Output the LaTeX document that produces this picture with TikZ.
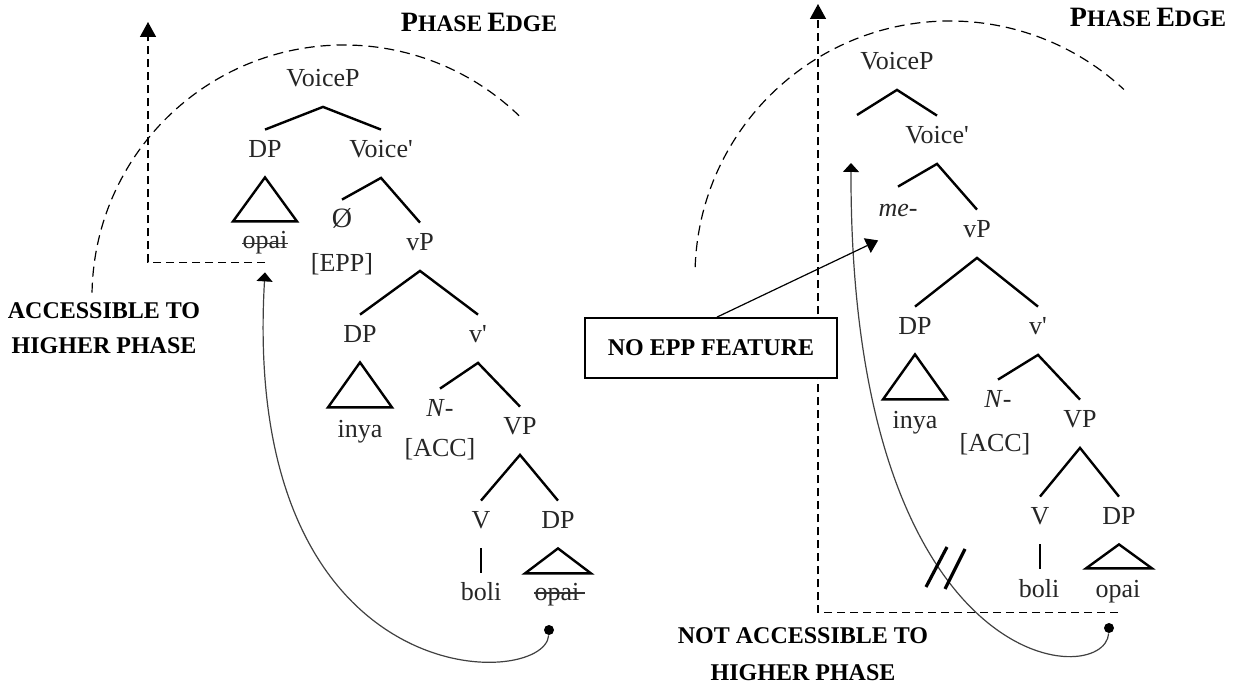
\documentclass[tikz,border=0pt]{standalone}
\usepackage{fontspec}
\setmainfont{Liberation Serif}
\usetikzlibrary{arrows.meta}
\newcommand{\treefont}{\fontsize{13}{15}\selectfont}
\newcommand{\tagfont}{\fontsize{12}{17.5}\selectfont\bfseries}
\newcommand{\capsbig}[2]{{\fontsize{14}{16}\selectfont #1}{\fontsize{11.8}{14}\selectfont #2}}
\begin{document}
\begin{tikzpicture}[x=0.5pt,y=-0.5pt]
    \tikzstyle{lbl}=[anchor=base,inner sep=0pt,text height=8pt,text depth=2.5pt,font=\treefont,text=black!85]
    \tikzstyle{tag}=[align=center,inner sep=0pt,font=\tagfont]
    \tikzstyle{branch}=[line width=1.2pt]
    \tikzstyle{strike}=[line width=0.6pt,black!80]
    \tikzstyle{phase}=[dash pattern=on 5pt off 3pt,line width=0.6pt]
    \tikzstyle{route}=[dash pattern=on 4pt off 2.5pt,line width=0.7pt,-{Triangle[width=8pt,length=7.5pt]}]
    \tikzstyle{move}=[black!75,line width=0.6pt,-{Triangle[width=8pt,length=4.5pt,color=black]}]
    \tikzstyle{dot}=[circle,fill,inner sep=0pt,minimum size=5pt]
    \useasboundingbox (0,0) rectangle (1238,683);
    % left tree
    \node[lbl] (voicepA) at (323,87) {VoiceP};
    \node[lbl] (dpA) at (265,158) {DP};
    \node[lbl] (voicebarA) at (381,158) {Voice\textquotesingle};
    \node[lbl] (opA) at (265,249) {opai};
    \node[lbl] (nullA) at (342,228) {{\fontsize{14}{15}\selectfont Ø}};
    \node[lbl] (eppA) at (342,272) {[EPP]};
    \node[lbl] (vpA) at (420,251) {vP};
    \node[lbl] (subjA) at (360,343) {DP};
    \node[lbl] (vbarA) at (478,343) {v\textquotesingle};
    \node[lbl] (inyaA) at (360,438) {inya};
    \node[lbl] (nA) at (440,417) {\textit{N}-};
    \node[lbl] (accA) at (440,457) {[ACC]};
    \node[lbl] (bigvpA) at (520,435) {VP};
    \node[lbl] (verbA) at (481,529) {V};
    \node[lbl] (objA) at (558,529) {DP};
    \node[lbl] (boliA) at (481,601) {boli};
    \node[lbl] (opaiA) at (557,601) {opai};
    % right tree
    \node[lbl] (voicepB) at (897,70) {VoiceP};
    \coordinate (specB) at (857,115);
    \node[lbl] (voicebarB) at (937,144) {Voice\textquotesingle};
    \node[lbl] (meB) at (898,217) {\textit{me}-};
    \node[lbl] (vpB) at (977,238) {vP};
    \node[lbl] (subjB) at (915,335) {DP};
    \node[lbl] (vbarB) at (1038,335) {v\textquotesingle};
    \node[lbl] (inyaB) at (915,429) {inya};
    \node[lbl] (nB) at (998,408) {\textit{N}-};
    \node[lbl] (accB) at (995,452) {[ACC]};
    \node[lbl] (bigvpB) at (1080,428) {VP};
    \node[lbl] (verbB) at (1040,525) {V};
    \node[lbl] (objB) at (1119,525) {DP};
    \node[lbl] (boliB) at (1039,598) {boli};
    \node[lbl] (opaiB) at (1118,598) {opai};

\draw[branch] ([yshift=6pt]dpA.north) -- ([yshift=-7.25pt]voicepA.south) -- ([yshift=6pt]voicebarA.north);
\draw[branch] ([yshift=6pt]nullA.north) -- ([yshift=-7.25pt]voicebarA.south) -- ([yshift=6pt]vpA.north);
\draw[branch] ([yshift=6pt]subjA.north) -- ([yshift=-7.25pt]vpA.south) -- ([yshift=6pt]vbarA.north);
\draw[branch] ([yshift=6pt]nA.north) -- ([yshift=-7.25pt]vbarA.south) -- ([yshift=6pt]bigvpA.north);
\draw[branch] ([yshift=6pt]verbA.north) -- ([yshift=-7.25pt]bigvpA.south) -- ([yshift=6pt]objA.north);
\draw[branch] ([yshift=-7pt]dpA.south) -- ++(-32,44) -- ++(64,0) -- cycle;
\draw[branch] ([yshift=-7pt]subjA.south) -- ++(-32,45) -- ++(64,0) -- cycle;
\draw[branch] ([yshift=-7pt]objA.south) -- ++(-33,25) -- ++(66,0) -- cycle;
\draw[branch] ([yshift=-7pt]verbA.south) -- ++(0,25);
\draw[strike] (opA.west) -- (opA.east);
\draw[strike] ([yshift=1.25pt]opaiA.west) -- ([yshift=1.25pt,xshift=2.5pt]opaiA.east);

\draw[branch] (specB) -- ([yshift=-7.25pt]voicepB.south) -- ([yshift=6pt]voicebarB.north);
\draw[branch] ([yshift=7pt]meB.north) -- ([yshift=-7.25pt]voicebarB.south) -- ([yshift=6pt]vpB.north);
\draw[branch] ([yshift=6pt]subjB.north) -- ([yshift=-7.25pt]vpB.south) -- ([yshift=6pt]vbarB.north);
\draw[branch] ([yshift=6pt]nB.north) -- ([yshift=-7.25pt]vbarB.south) -- ([yshift=6pt]bigvpB.north);
\draw[branch] ([yshift=6pt]verbB.north) -- ([yshift=-7.25pt]bigvpB.south) -- ([yshift=6pt]objB.north);
\draw[branch] ([yshift=-7pt]subjB.south) -- ++(-32,45) -- ++(64,0) -- cycle;
\draw[branch] ([yshift=-7pt]objB.south) -- ++(-33,24) -- ++(66,0) -- cycle;
\draw[branch] ([yshift=-7pt]verbB.south) -- ++(0,25);

% phase edges
\coordinate (rimA) at (344,297);
\coordinate (rimB) at (950,276);
\draw[phase] (rimA) ++(181:252) arc[start angle=181,end angle=314,radius=252];
\draw[phase] (rimB) ++(182:255) arc[start angle=182,end angle=313,radius=255];
\node[anchor=base,inner sep=0pt,font=\bfseries] (edgeA) at (479,32) {\capsbig{P}{HASE} \capsbig{E}{DGE}};
\node[anchor=base,inner sep=0pt,font=\bfseries] (edgeB) at (1148,27) {\capsbig{P}{HASE} \capsbig{E}{DGE}};

% routes up
\coordinate (upA) at (148,22);
\coordinate (upB) at (818,4);
\draw[route] ([yshift=-4pt]opA.south) -| (upA);
\draw[route] ([yshift=-4.5pt]opaiB.south) -| (upB);

% movement
\coordinate (liftB) at (851,163);
\node[dot] (dotA) at (549,630) {};
\node[dot] (dotB) at (1109,628) {};
\draw[move] (dotA) .. controls (545,690) and (240,700) .. ([yshift=-9pt]opA.south);
\draw[move] (dotB) .. controls (1105,690) and (850,680) .. (liftB);
\draw[line width=1.6pt] (926,587) -- (947,547) (945,589) -- (965,549);

% labels
\node[draw,fill=white,line width=0.9pt,minimum width=126pt,minimum height=30pt,inner sep=0pt,font=\tagfont] (eppbox) at (711,348) {NO EPP FEATURE};
\draw[line width=0.6pt,-{Triangle[width=8pt,length=6pt]}] ([xshift=3pt]eppbox.north) -- ([yshift=-9pt]meB.south west);
\node[tag] (accessA) at (104,328) {ACCESSIBLE TO\\HIGHER PHASE};
\node[tag] (accessB) at (803,654) {NOT ACCESSIBLE TO\\[1pt]HIGHER PHASE};
\end{tikzpicture}
\end{document}
